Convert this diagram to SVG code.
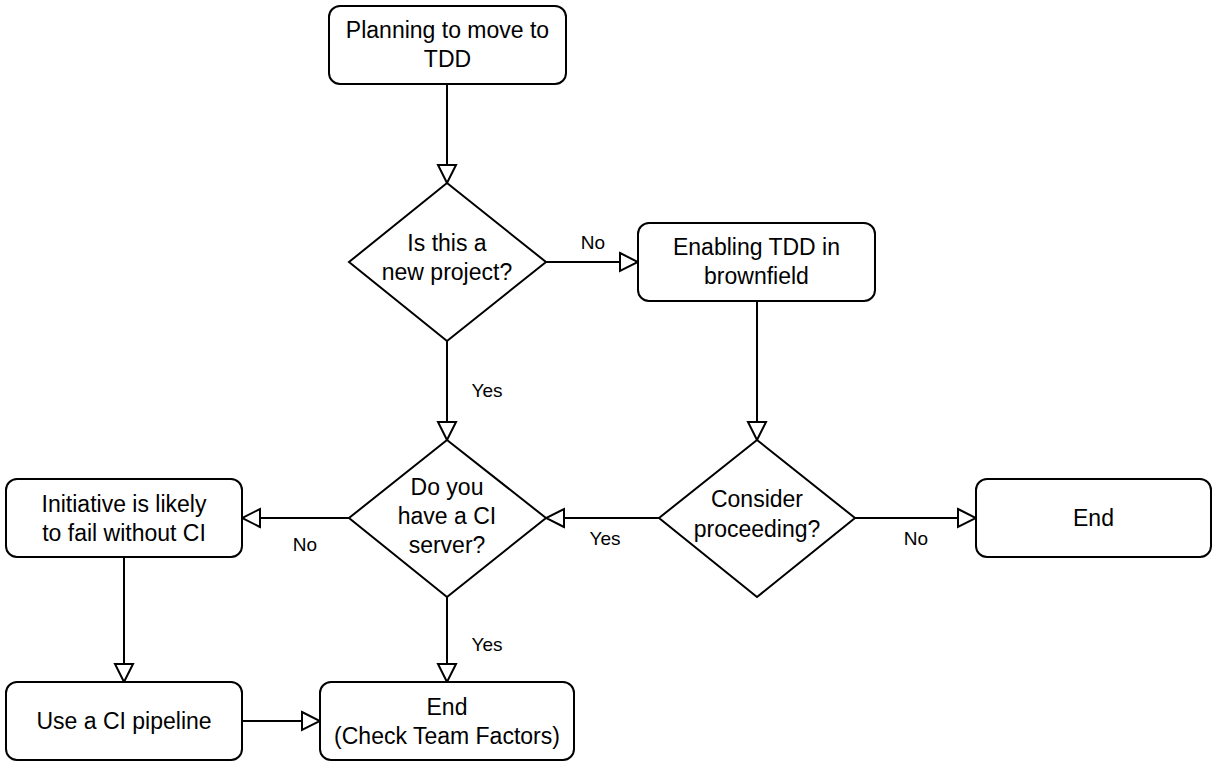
<svg xmlns="http://www.w3.org/2000/svg" width="1218" height="767" viewBox="0 0 1218 767">
<defs>
<style>
.n{fill:#fff;stroke:#000;stroke-width:2}
.t{font-family:"Liberation Sans",Arial,sans-serif;font-size:23px;fill:#000;text-anchor:middle}
.l{font-family:"Liberation Sans",Arial,sans-serif;font-size:19px;fill:#000;text-anchor:middle}
.c{fill:none;stroke:#000;stroke-width:2}
</style>
<marker id="ah" markerUnits="userSpaceOnUse" markerWidth="22" markerHeight="22" refX="19" refY="9" orient="auto" viewBox="-2 -2 22 22">
<path d="M1,0 L19,9 L1,18 Z" fill="#fff" stroke="#000" stroke-width="2" stroke-linejoin="miter"/>
</marker>
</defs>
<rect width="1218" height="767" fill="#fff"/>
<g id="connectors">
<path class="c" d="M447,84 V183" marker-end="url(#ah)"/>
<path class="c" d="M546,262 H638" marker-end="url(#ah)"/>
<path class="c" d="M757,301 V440" marker-end="url(#ah)"/>
<path class="c" d="M855,518 H976" marker-end="url(#ah)"/>
<path class="c" d="M659,518 H546" marker-end="url(#ah)"/>
<path class="c" d="M447,341 V440" marker-end="url(#ah)"/>
<path class="c" d="M349,518 H242" marker-end="url(#ah)"/>
<path class="c" d="M124,557 V682" marker-end="url(#ah)"/>
<path class="c" d="M447,597 V682" marker-end="url(#ah)"/>
<path class="c" d="M242,721 H320" marker-end="url(#ah)"/>
<text class="l" x="593" y="249">No</text>
<text class="l" x="487" y="397">Yes</text>
<text class="l" x="605" y="545">Yes</text>
<text class="l" x="916" y="545">No</text>
<text class="l" x="305" y="551">No</text>
<text class="l" x="487" y="651">Yes</text>
</g>
<g id="start">
<rect class="n" x="329" y="6" width="237" height="78" rx="11"/>
<text class="t" x="447.5" y="38">Planning to move to</text>
<text class="t" x="447.5" y="67">TDD</text>
</g>
<g id="newproject">
<path class="n" d="M447,183 L546,262 L447,341 L349,262 Z"/>
<text class="t" x="447" y="251">Is this a</text>
<text class="t" x="447" y="280">new project?</text>
</g>
<g id="brownfield">
<rect class="n" x="638" y="223" width="237" height="78" rx="11"/>
<text class="t" x="756.5" y="255">Enabling TDD in</text>
<text class="t" x="756.5" y="284">brownfield</text>
</g>
<g id="consider">
<path class="n" d="M757,440 L855,518 L757,597 L659,518 Z"/>
<text class="t" x="757" y="507">Consider</text>
<text class="t" x="757" y="537">proceeding?</text>
</g>
<g id="end1">
<rect class="n" x="976" y="479" width="235" height="78" rx="11"/>
<text class="t" x="1093.5" y="526">End</text>
</g>
<g id="ciserver">
<path class="n" d="M447,440 L546,518 L447,597 L349,518 Z"/>
<text class="t" x="447" y="495">Do you</text>
<text class="t" x="447" y="524">have a CI</text>
<text class="t" x="447" y="553">server?</text>
</g>
<g id="initiative">
<rect class="n" x="6" y="479" width="236" height="78" rx="11"/>
<text class="t" x="124" y="512">Initiative is likely</text>
<text class="t" x="124" y="541">to fail without CI</text>
</g>
<g id="pipeline">
<rect class="n" x="6" y="682" width="236" height="78" rx="11"/>
<text class="t" x="124" y="729">Use a CI pipeline</text>
</g>
<g id="end2">
<rect class="n" x="320" y="682" width="254" height="78" rx="11"/>
<text class="t" x="447" y="715">End</text>
<text class="t" x="447" y="744">(Check Team Factors)</text>
</g>
</svg>
